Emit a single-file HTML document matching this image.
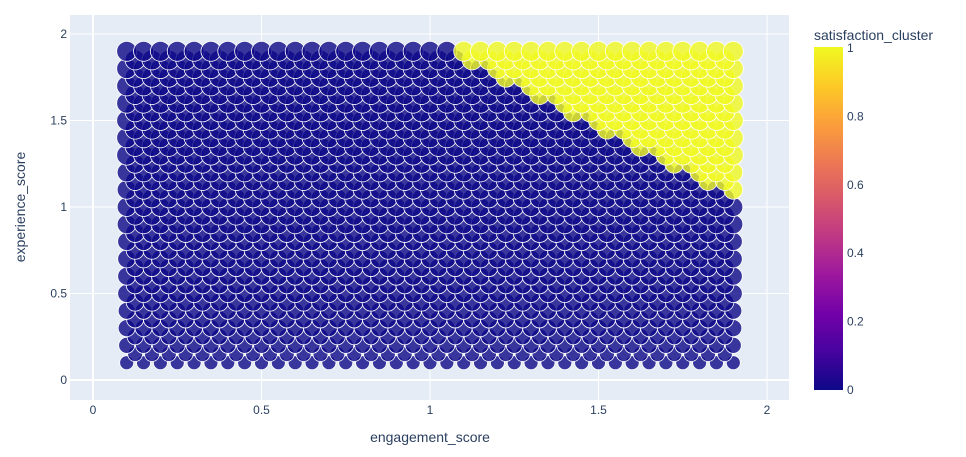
<!DOCTYPE html>
<html><head><meta charset="utf-8">
<style>
body{margin:0;background:#fff;font-family:"Liberation Sans",sans-serif;}
svg text{font-family:"Liberation Sans",sans-serif;fill:#2a3f5f;font-size:12px;}
</style></head>
<body>
<svg id="chart" width="966" height="452" viewBox="0 0 966 452" xmlns="http://www.w3.org/2000/svg">
<defs>
<linearGradient id="plasma" x1="0" y1="1" x2="0" y2="0">
<stop offset="0" stop-color="#0d0887"/><stop offset="0.111" stop-color="#46039f"/><stop offset="0.222" stop-color="#7201a8"/><stop offset="0.333" stop-color="#9c179e"/><stop offset="0.444" stop-color="#bd3786"/><stop offset="0.555" stop-color="#d8576b"/><stop offset="0.666" stop-color="#ed7953"/><stop offset="0.777" stop-color="#fb9f3a"/><stop offset="0.888" stop-color="#fdca26"/><stop offset="1" stop-color="#f0f921"/>
</linearGradient>
<clipPath id="plotclip"><rect x="70" y="15" width="719" height="385"/></clipPath>
</defs>
<rect x="70" y="15" width="719" height="385" fill="#e5ecf6"/>
<g id="grid"></g>
<g id="points" clip-path="url(#plotclip)"></g>
<rect x="814" y="47" width="29" height="343" fill="url(#plasma)"/>
<text x="814" y="40" style="font-size:14px">satisfaction_cluster</text>
<g id="cbticks"></g>
<text x="430" y="442" text-anchor="middle" style="font-size:14px">engagement_score</text>
<text x="0" y="0" text-anchor="middle" transform="translate(25,207) rotate(-90)" style="font-size:14px">experience_score</text>
</svg>
<script>
const xTicks=[0,0.5,1,1.5,2];
const xTickLabels=["0","0.5","1","1.5","2"];
const yTicks=[0,0.5,1,1.5,2];
const yTickLabels=["0","0.5","1","1.5","2"];
const cbTicks=[0,0.2,0.4,0.6,0.8,1];
const cbTickLabels=["0","0.2","0.4","0.6","0.8","1"];
const rowY=[0.1,0.15,0.2,0.25,0.3,0.35,0.4,0.45,0.5,0.55,0.6,0.65,0.7,0.75,0.8,0.85,0.9,0.95,1.0,1.05,1.1,1.15,1.2,1.25,1.3,1.35,1.4,1.45,1.5,1.55,1.6,1.65,1.7,1.75,1.8,1.85,1.9];
const evenX=[0.1,0.15,0.2,0.25,0.3,0.35,0.4,0.45,0.5,0.55,0.6,0.65,0.7,0.75,0.8,0.85,0.9,0.95,1.0,1.05,1.1,1.15,1.2,1.25,1.3,1.35,1.4,1.45,1.5,1.55,1.6,1.65,1.7,1.75,1.8,1.85,1.9];
const oddX=[0.125,0.175,0.225,0.275,0.325,0.375,0.425,0.475,0.525,0.575,0.625,0.675,0.725,0.775,0.825,0.875,0.925,0.975,1.025,1.075,1.125,1.175,1.225,1.275,1.325,1.375,1.425,1.475,1.525,1.575,1.625,1.675,1.725,1.775,1.825,1.875];
// index in each row at which cluster 1 starts (99 = none)
const rowClusterStart=[99,99,99,99,99,99,99,99,99,99,99,99,99,99,99,99,99,99,99,99,36,34,34,32,32,30,30,28,28,26,26,24,24,22,22,20,20];
const rowSize=[7,7.5,8,8,8.5,8.5,8.5,9,9,9,9,9,9,9,9,9.5,9.5,9.5,9.5,9.5,9.5,9.5,9.5,9.5,10,10,10,10,10,10,10,10,10,10,10,10,10];

const NS="http://www.w3.org/2000/svg";
const xs=v=>93+v*337;
const ys=v=>380-v*173;
const grid=document.getElementById('grid');
xTicks.forEach((t,i)=>{
 const l=document.createElementNS(NS,'line');
 l.setAttribute('x1',xs(t));l.setAttribute('x2',xs(t));l.setAttribute('y1',15);l.setAttribute('y2',400);
 l.setAttribute('stroke','#fff');l.setAttribute('stroke-width',t===0?2:1);
 
 
 grid.appendChild(l);
 const tx=document.createElementNS(NS,'text');
 tx.setAttribute('x',xs(t));tx.setAttribute('y',414);tx.setAttribute('text-anchor','middle');
 tx.textContent=xTickLabels[i];
 
 
 grid.appendChild(tx);
});
yTicks.forEach((t,i)=>{
 const l=document.createElementNS(NS,'line');
 l.setAttribute('x1',70);l.setAttribute('x2',789);l.setAttribute('y1',ys(t));l.setAttribute('y2',ys(t));
 l.setAttribute('stroke','#fff');l.setAttribute('stroke-width',t===0?2:1);
 
 
 grid.appendChild(l);
 const tx=document.createElementNS(NS,'text');
 tx.setAttribute('x',67);tx.setAttribute('y',ys(t)+4);tx.setAttribute('text-anchor','end');
 tx.textContent=yTickLabels[i];
 
 
 grid.appendChild(tx);
});
const pts=document.getElementById('points');
rowY.forEach((y,r)=>{
 const xsRow=(r%2===0)?evenX:oddX;
 xsRow.forEach((x,i)=>{
  const c=i>=rowClusterStart[r];
  const ci=document.createElementNS(NS,'circle');
  ci.setAttribute('cx',xs(x));ci.setAttribute('cy',ys(y));ci.setAttribute('r',rowSize[r]);
  ci.setAttribute('fill',c?'#f0f921':'#0d0887');ci.setAttribute('fill-opacity',0.8);
  ci.setAttribute('stroke','#fff');ci.setAttribute('stroke-width',0.8);
  
  
  pts.appendChild(ci);
 });
});
const cb=document.getElementById('cbticks');
cbTicks.forEach((t,i)=>{
 const tx=document.createElementNS(NS,'text');
 tx.setAttribute('x',847);tx.setAttribute('y',390-t*342+4);
 tx.textContent=cbTickLabels[i];
 
 
 cb.appendChild(tx);
});
</script>
</body></html>
